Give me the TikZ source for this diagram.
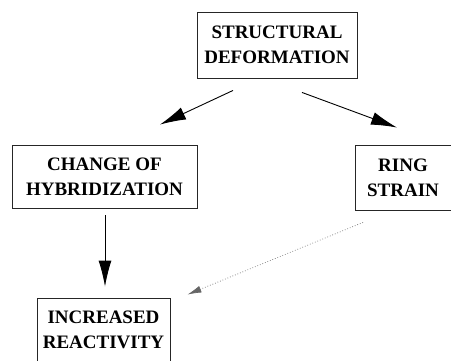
\documentclass[tikz,border=0pt]{standalone}
\usepackage{fontspec}
\setmainfont{Liberation Serif}
\usetikzlibrary{arrows.meta}

\begin{document}
\begin{tikzpicture}[x=1pt,y=1pt,
        box/.style={draw=black!85,line width=0.9pt,align=center,inner sep=1pt,
                    font=\fontsize{19}{25}\selectfont\bfseries},
        arr/.style={draw=black,line width=0.9pt,-{Latex[length=26pt,width=13pt]}},
        dotarr/.style={draw=black!60,dotted,line width=0.7pt,-{Latex[length=14pt,width=7pt]}}]
        \useasboundingbox (0,0) rectangle (451,360);
        % boxes
        \node[box,minimum width=160,minimum height=66] (sd) at (277,315) {STRUCTURAL\\DEFORMATION};
        \node[box,minimum width=185,minimum height=63] (ch) at (104.5,183.5) {CHANGE OF\\HYBRIDIZATION};
        \node[box,minimum width=96,minimum height=65] (rs) at (403,182.5) {RING\\STRAIN};
        \node[box,minimum width=133,minimum height=64] (ir) at (103.5,30) {INCREASED\\REACTIVITY};
        % arrows
        \draw[arr] ([xshift=-44pt,yshift=-12pt]sd.south) -- ([xshift=55.5pt,yshift=20pt]ch.north);
        \draw[arr] ([xshift=25pt,yshift=-14pt]sd.south) -- ([xshift=-6pt,yshift=17pt]rs.north);
        \draw[arr] ([xshift=0.5pt,yshift=-7pt]ch.south) -- ([xshift=1.5pt,yshift=11pt]ir.north);
        \draw[dotarr] ([xshift=-40pt,yshift=-12pt]rs.south) -- ([xshift=17pt,yshift=3pt]ir.north east);
\end{tikzpicture}
\end{document}
